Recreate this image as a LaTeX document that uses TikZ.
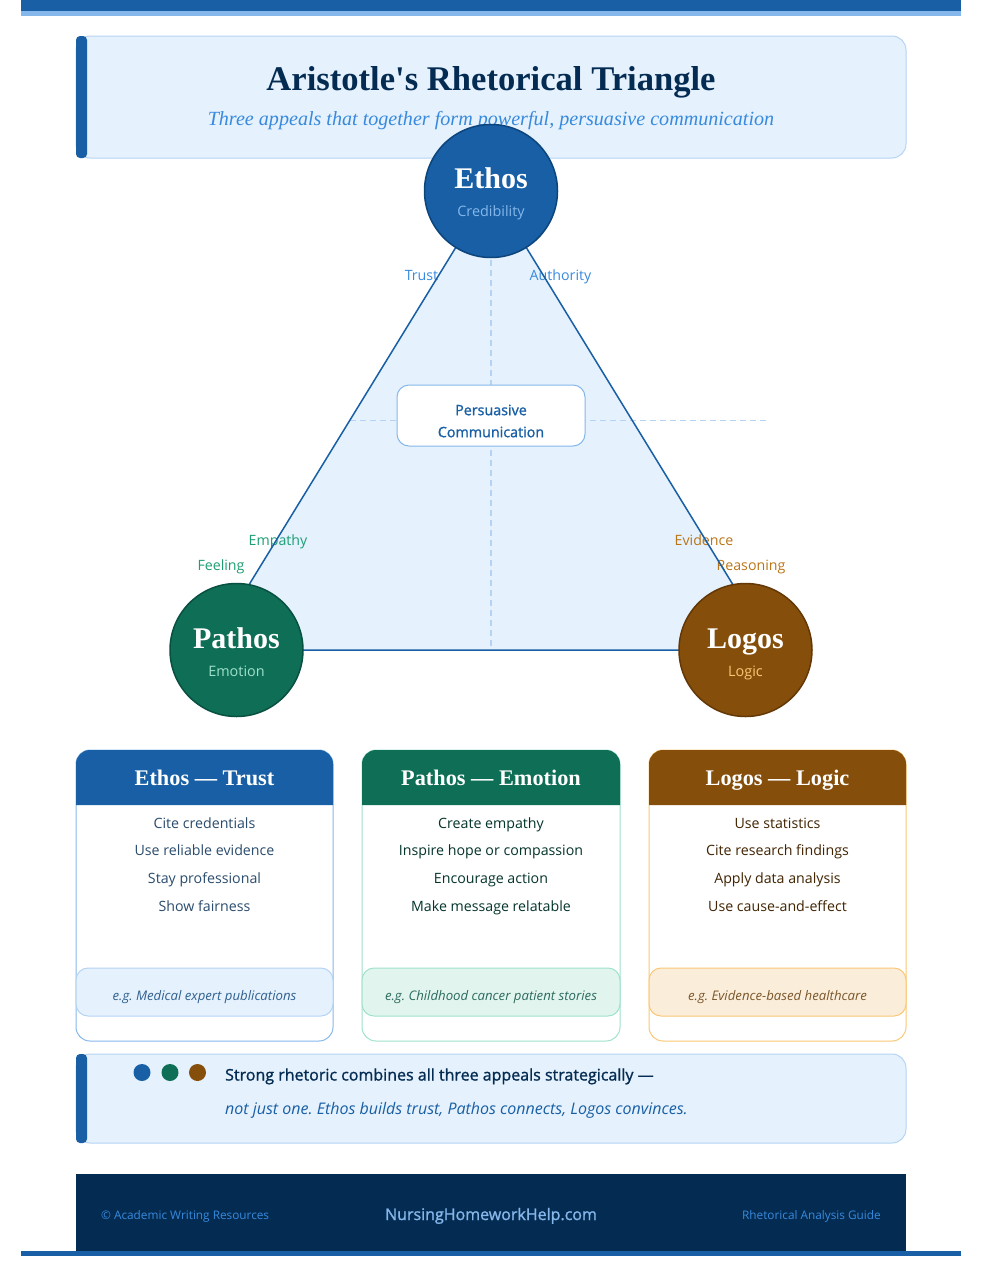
\documentclass[tikz,border=0pt]{standalone}
\usepackage{fontspec}
\setmainfont{Liberation Serif}
\setsansfont{Open Sans}
\newfontfamily\semifont[FakeBold=1.2]{Open Sans}
\frenchspacing
\definecolor{blueA}{HTML}{E5F1FC}
\definecolor{blueB}{HTML}{B5D4F4}
\definecolor{blueC}{HTML}{85B7EB}
\definecolor{blueD}{HTML}{378ADD}
\definecolor{blueE}{HTML}{185FA5}
\definecolor{blueF}{HTML}{042C53}
\definecolor{blueG}{HTML}{0C447C}
\definecolor{tealA}{HTML}{E1F5EE}
\definecolor{tealB}{HTML}{9FE1CB}
\definecolor{tealC}{HTML}{1D9E75}
\definecolor{tealE}{HTML}{0F6E56}
\definecolor{tealF}{HTML}{04342C}
\definecolor{tealG}{HTML}{085041}
\definecolor{ambA}{HTML}{FAEEDA}
\definecolor{ambB}{HTML}{FAC775}
\definecolor{ambC}{HTML}{BA7517}
\definecolor{ambE}{HTML}{854F0B}
\definecolor{ambF}{HTML}{412402}
\definecolor{ambG}{HTML}{633806}
\begin{document}
\begin{tikzpicture}
		[x=1pt,y=-1pt,
		panel/.style ={rectangle, draw=blueB, fill=blueA, line width=1pt, rounded corners=14pt, minimum width=830, inner sep=0},
		accent/.style ={rectangle, fill=blueE, rounded corners=4pt, minimum width=11, inner sep=0},
		appeal/.style ={circle, line width=1.5pt, minimum size=133, inner sep=0},
		appealname/.style ={anchor=base, font=\fontsize{30}{30}\bfseries\selectfont, text=white},
		appealsub/.style ={anchor=base, font=\sffamily\fontsize{14.4}{16}\selectfont},
		edgelabel/.style ={anchor=base, font=\sffamily\fontsize{14.2}{16}\selectfont},
		centre/.style ={rectangle, draw=blueC, fill=white, line width=1pt, rounded corners=12pt, minimum width=188, minimum height=61},
		centretext/.style ={align=center, text=blueE, font=\semifont\fontsize{14.3}{22}\selectfont},
		guide/.style ={draw=blueB, line width=1.1pt, dash pattern=on 6pt off 4pt},
		card/.style ={rectangle, fill=white, line width=1pt, rounded corners=14pt, minimum width=257, minimum height=291, inner sep=0},
		cardtitle/.style ={anchor=base, font=\fontsize{22.3}{24}\bfseries\selectfont, text=white},
		cardlist/.style ={align=center, anchor=base, text depth=0pt, font=\sffamily\fontsize{14.2}{27.6}\selectfont},
		sample/.style ={rectangle, line width=1pt, rounded corners=12pt, minimum width=257, minimum height=48, inner sep=0},
		sampletext/.style ={anchor=base, font=\sffamily\itshape\fontsize{13.2}{15}\selectfont},
		dot/.style ={circle, minimum size=17, inner sep=0},
		foot/.style ={font=\sffamily\fontsize{11.8}{15}\selectfont, text=blueD},
		]

		\useasboundingbox (0,0) rectangle (994,1280);

		\fill[blueE] (21,0) rectangle (961,11);
		\fill[blueC] (21,11) rectangle (961,16);

		\draw (491,97) node[panel, minimum height=122] (T1) {};
		\draw (81.5,97) node[accent, minimum height=122] (T2) {};
		\draw (491,90) node[anchor=base, font=\fontsize{34.6}{36}\bfseries\selectfont, text=blueF] (T3) {Aristotle\textquotesingle s Rhetorical Triangle};
		\draw (491,125) node[anchor=base, font=\fontsize{20.1}{24}\itshape\selectfont, text=blueD] (T4) {Three appeals that together form powerful, persuasive communication};

		\coordinate (A1) at (491,190);
		\coordinate (A2) at (209,650);
		\coordinate (A3) at (773,650);
		\coordinate (V1) at (491,648);
		\coordinate (H1) at (350,420.5);
		\coordinate (H2) at (768,420.5);

		\fill[blueA] (A1) -- (A2) -- (A3) -- cycle;
		\path[guide] (A1) -- (V1);
		\path[guide] (H1) -- (H2);

		\draw (421.5,280) node[edgelabel, text=blueD] (L1) {Trust};
		\draw (560.5,280) node[edgelabel, text=blueD] (L2) {Authority};
		\draw (278,545.5) node[edgelabel, text=tealC] (L3) {Empathy};
		\draw (221,570.5) node[edgelabel, text=tealC] (L4) {Feeling};
		\draw (704,545.5) node[edgelabel, text=ambC] (L5) {Evidence};
		\draw (751,570.5) node[edgelabel, text=ambC] (L6) {Reasoning};

		\draw[blueE, line width=1.5pt, line join=round] (A1) -- (A2) -- (A3) -- cycle;

		\draw (491,415.5) node[centre] (C1) {};
		\draw (491,421) node[centretext] (C2) {Persuasive\\Communication};

		\draw (491,191) node[appeal, fill=blueE, draw=blueG] (E1) {};
		\draw (236.5,650) node[appeal, fill=tealE, draw=tealG] (P1) {};
		\draw (745.5,650) node[appeal, fill=ambE, draw=ambG] (G1) {};
		\draw (491,188.5) node[appealname] (E2) {Ethos};
		\draw (236.5,648) node[appealname] (P2) {Pathos};
		\draw (745.5,648) node[appealname] (G2) {Logos};
		\draw (491,216.5) node[appealsub, text=blueC] (E3) {Credibility};
		\draw (236.5,676) node[appealsub, text=tealB] (P3) {Emotion};
		\draw (745.5,676) node[appealsub, text=ambB] (G3) {Logic};

		\draw (204.5,895.5) node[card, draw=blueC] (K1) {};
		\draw (491,895.5) node[card, draw=tealB, minimum width=258] (K2) {};
		\draw (777.5,895.5) node[card, draw=ambB] (K3) {};

		\fill[blueE] (76,805) [rounded corners=14pt] -- (76,750) -- (333,750) [sharp corners] -- (333,805) -- cycle;
		\fill[tealE] (362,805) [rounded corners=14pt] -- (362,750) -- (620,750) [sharp corners] -- (620,805) -- cycle;
		\fill[ambE] (649,805) [rounded corners=14pt] -- (649,750) -- (906,750) [sharp corners] -- (906,805) -- cycle;

		\draw (204.5,785.5) node[cardtitle] (K4) {Ethos — Trust};
		\draw (491,785.5) node[cardtitle] (K5) {Pathos — Emotion};
		\draw (777.5,785.5) node[cardtitle] (K6) {Logos — Logic};

		\draw (204.5,911) node[cardlist, text=blueF!85!white] (K7) {Cite credentials\\Use reliable evidence\\Stay professional\\Show fairness};
		\draw (491,911) node[cardlist, text=tealF] (K8) {Create empathy\\Inspire hope or compassion\\Encourage action\\Make message relatable};
		\draw (777.5,911) node[cardlist, text=ambF] (K9) {Use statistics\\Cite research findings\\Apply data analysis\\Use cause-and-effect};

		\draw (204.5,992) node[sample, draw=blueB, fill=blueA] (S1) {};
		\draw (491,992) node[sample, draw=tealB, fill=tealA, minimum width=258] (S2) {};
		\draw (777.5,992) node[sample, draw=ambB, fill=ambA] (S3) {};
		\draw (204.5,1000) node[sampletext, text=blueG!85!white] (S4) {e.g. Medical expert publications};
		\draw (491,1000) node[sampletext, text=tealG!85!white] (S5) {e.g. Childhood cancer patient stories};
		\draw (777.5,1000) node[sampletext, text=ambG!85!white] (S6) {e.g. Evidence-based healthcare};

		\draw (491,1098.5) node[panel, minimum height=89] (N1) {};
		\draw (81.5,1098.5) node[accent, minimum height=89] (N2) {};
		\draw (142,1072.5) node[dot, fill=blueE] (N3) {};
		\draw (170,1072.5) node[dot, fill=tealE] (N4) {};
		\draw (197.5,1072.5) node[dot, fill=ambE] (N5) {};
		\draw (225,1080.5) node[anchor=base west, inner sep=0, font=\semifont\fontsize{16}{18}\selectfont, text=blueF] (N6) {Strong rhetoric combines all three appeals strategically —};
		\draw (225,1114) node[anchor=base west, inner sep=0, font=\sffamily\itshape\fontsize{16}{18}\selectfont, text=blueE] (N7) {not just one. Ethos builds trust, Pathos connects, Logos convinces.};

		\fill[blueF] (76,1174) rectangle (906,1251);
		\fill[blueE] (21,1251) rectangle (961,1256);
		\draw (101,1219.5) node[foot, anchor=base west, inner sep=0] (F1) {© Academic Writing Resources};
		\draw (491,1220) node[anchor=base, font=\semifont\fontsize{16}{18}\selectfont, text=blueC] (F2) {NursingHomeworkHelp.com};
		\draw (881,1219.5) node[foot, anchor=base east, inner sep=0] (F3) {Rhetorical Analysis Guide};

	\end{tikzpicture}
\end{document}
